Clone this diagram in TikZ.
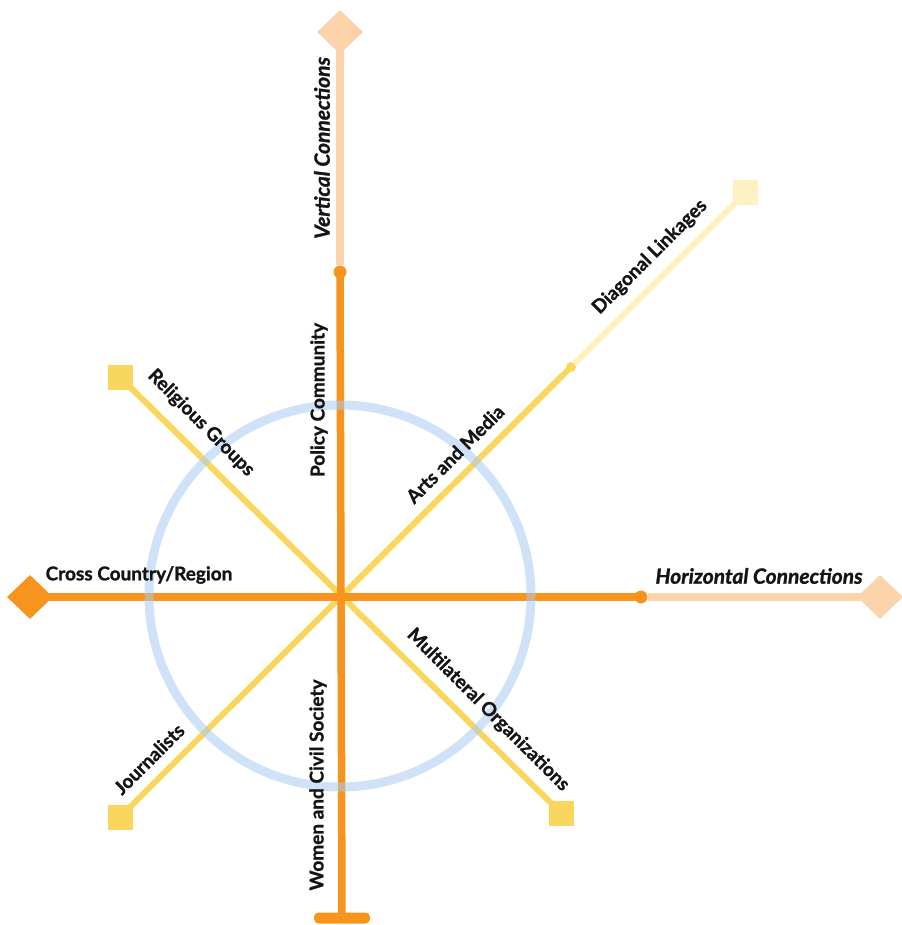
\documentclass[tikz,border=0pt]{standalone}
\usepackage{fontspec}
\setmainfont{Lato}[BoldFeatures={FakeBold=1.2},BoldItalicFeatures={FakeBold=1.2}]
\usetikzlibrary{shapes.geometric}
\definecolor{orng}{HTML}{F7941D}
\definecolor{peach}{HTML}{FCD3AA}
\definecolor{yell}{HTML}{F9D65E}
\definecolor{lyell}{HTML}{FEF1C2}
\definecolor{cblue}{HTML}{A9CBF2}
\definecolor{ink}{HTML}{141414}
\begin{document}
\begin{tikzpicture}[x=1pt,y=-1pt,
  orline/.style={draw=orng,line width=7.5pt},
  peline/.style={draw=peach,line width=8pt},
  yeline/.style={draw=yell,line width=6pt},
  lyline/.style={draw=lyell,line width=6pt},
  dia/.style={diamond,fill=#1,minimum width=46pt,minimum height=44pt,inner sep=0pt},
  sq/.style={rectangle,fill=#1,minimum size=25pt,inner sep=0pt},
  dot/.style={circle,fill=#1,minimum size=13pt,inner sep=0pt},
  lab/.style={text=ink,font=\fontsize{19}{19}\selectfont\bfseries,inner sep=0pt},
  ilab/.style={text=ink,font=\fontsize{21}{21}\selectfont\bfseries\itshape,inner sep=0pt}
]
\useasboundingbox (0,0) rectangle (901,925);
\coordinate (c) at (340,597);
% end shapes
\node[dia=peach] (vtop) at (340,32) {};
\node[dia=orng] (hl) at (30,597) {};
\node[dia=peach] (hr) at (880,597) {};
\node[rectangle,fill=orng,rounded corners=4.5pt,minimum width=56pt,minimum height=11pt,inner sep=0pt] (vbot) at (342,918) {};
\node[sq=yell] (nw) at (120,377) {};
\node[sq=yell] (sw) at (120,817) {};
\node[sq=yell] (se) at (561,813) {};
\node[sq=lyell] (ne) at (745,193) {};
% joints
\node[dot=orng] (vj) at (340,272) {};
\node[dot=orng] (hj) at (641,597) {};
\node[circle,fill=yell,minimum size=10pt,inner sep=0pt] (dj) at (571,367) {};
% light outer segments
\draw[peline] (vtop.center) -- (vj);
\draw[peline] (hj) -- (hr.center);
\draw[lyline] (dj) -- (ne.center);
% yellow diagonals
\draw[yeline] (nw.center) -- (se.center);
\draw[yeline] (sw.center) -- (dj.center);
% orange axes
\draw[orline] (vj.center) -- (vbot.center);
\draw[orline] (hl.center) -- (hj.center);
% circle
\node[circle,draw=cblue,line width=9pt,draw opacity=0.55,minimum size=382pt,inner sep=0pt] (ring) at (340,596) {};
% labels
\node[ilab,rotate=90] (lvc) at (322,148) {Vertical Connections};
\node[lab,rotate=90] (lpc) at (319,400) {Policy Community};
\node[lab,rotate=90] (lwc) at (318,785) {Women and Civil Society};
\node[lab] (lcc) at (139,575) {Cross Country/Region};
\node[ilab] (lhc) at (759,576) {Horizontal Connections};
\node[lab,rotate=45] (ldl) at (650,257) {Diagonal Linkages};
\node[lab,rotate=45] (lam) at (455,454) {Arts and Media};
\node[lab,rotate=-45] (lrg) at (201,423) {Religious Groups};
\node[lab,rotate=-45] (lmo) at (488,710) {Multilateral Organizations};
\node[lab,rotate=45] (ljo) at (149,759) {Journalists};
\end{tikzpicture}
\end{document}
